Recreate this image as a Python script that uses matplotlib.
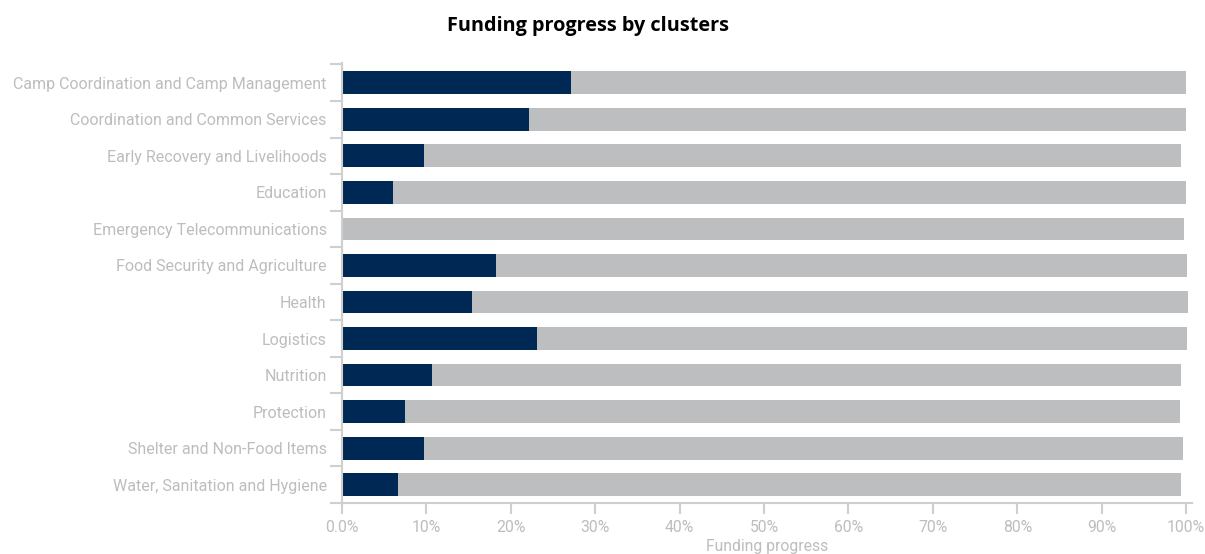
import numpy as np
import matplotlib.pyplot as plt

clusters = ["Camp Coordination and Camp Management", "Coordination and Common Services",
            "Early Recovery and Livelihoods", "Education", "Emergency Telecommunications",
            "Food Security and Agriculture", "Health", "Logistics", "Nutrition",
            "Protection", "Shelter and Non-Food Items", "Water, Sanitation and Hygiene"]
funded = [27.1, 22.2, 9.7, 6.1, 0.0, 18.2, 15.4, 23.1, 10.7, 7.5, 9.7, 6.6]
total = [100.0, 100.0, 99.4, 100.0, 99.7, 100.1, 100.2, 100.1, 99.4, 99.3, 99.6, 99.4]
ticks = [0, 10, 20, 30, 40, 50, 60, 70, 80, 90, 100]
tick_labels = ["0.0%", "10%", "20%", "30%", "40%", "50%", "60%", "70%", "80%", "90%", "100%"]

navy = "#002855"
grey = "#bdbec0"
axis_col = "#cfcfcf"
text_col = "#bdbdbd"

fig = plt.figure(figsize=(12.05, 5.54), dpi=100)
ax = fig.add_axes([342 / 1205, 1 - 503 / 554, 850 / 1205, 440 / 554])

y = np.arange(len(clusters))
ax.barh(y, total, height=0.62, color=grey)
ax.barh(y, funded, height=0.62, color=navy)

ax.set_xlim(0, 100.7)
ax.set_ylim(11.41, -0.54)
ax.set_yticks(y)
ax.set_yticklabels(clusters, fontsize=11.5, color=text_col, family="Roboto")
ax.set_yticks(np.arange(-0.5, len(clusters), 1), minor=True)
ax.tick_params(axis="y", which="major", length=0, pad=11)
ax.tick_params(axis="y", which="minor", length=9, width=1.5, color=axis_col)

ax.set_xticks(ticks)
ax.set_xticklabels(tick_labels, fontsize=11.3, color=text_col, family="Roboto")
ax.tick_params(axis="x", length=8, width=1.5, color=axis_col, pad=4)
ax.set_xlabel("Funding progress", fontsize=11.3, color=text_col, family="Roboto", labelpad=3)

for s in ["top", "right"]:
    ax.spines[s].set_visible(False)
for s in ["left", "bottom"]:
    ax.spines[s].set_color(axis_col)
    ax.spines[s].set_linewidth(1.5)

fig.text(588 / 1205, 1 - 26 / 554, "Funding progress by clusters", ha="center", va="center",
         fontsize=14.3, fontweight="bold", family="Open Sans")

fig.savefig("out.png", dpi=100)
